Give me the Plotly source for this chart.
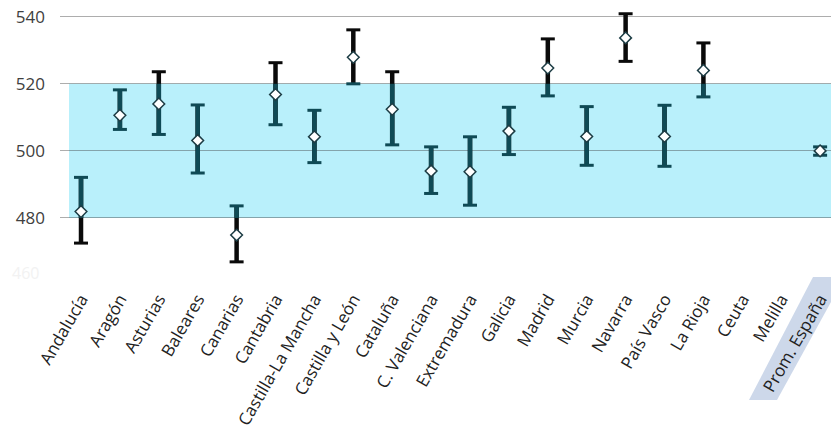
import plotly.graph_objects as go

regions = ["Andalucía", "Aragón", "Asturias", "Baleares", "Canarias", "Cantabria",
           "Castilla-La Mancha", "Castilla y León", "Cataluña", "C. Valenciana",
           "Extremadura", "Galicia", "Madrid", "Murcia", "Navarra", "País Vasco",
           "La Rioja", "Ceuta", "Melilla", "Prom. España"]
score = [481.9, 510.6, 514.0, 503.1, 474.9, 516.8, 504.2, 527.9, 512.4, 494.0,
         493.8, 505.9, 524.7, 504.3, 533.7, 504.3, 524.0, None, None, 500.0]
upper = [492.1, 518.2, 523.6, 513.7, 483.6, 526.3, 512.1, 536.1, 523.6, 501.2,
         504.2, 513.0, 533.4, 513.2, 540.9, 513.6, 532.2, None, None, 501.2]
lower = [472.5, 506.4, 504.9, 493.4, 466.9, 507.8, 496.5, 520.0, 501.8, 487.3,
         483.8, 498.9, 516.4, 495.7, 526.7, 495.4, 516.1, None, None, 498.7]
band_low, band_high = 480, 520
y_ticks = [480, 500, 520, 540]

BLACK = "#0a0a0a"
TEAL = "#0f4a55"
BAND = "#b9f0fb"

W, H = 831, 436
ML, MR, MT, MB = 60, 0, 0, 151
PW, PH = W - ML - MR, H - MT - MB

fig = go.Figure()

bx, by = [], []
tx, ty = [], []
for i, (lo, hi) in enumerate(zip(lower, upper)):
    if lo is None:
        continue
    bx += [i, i, None]
    by += [lo, hi, None]
    clo, chi = max(lo, band_low), min(hi, band_high)
    if chi > clo:
        tx += [i, i, None]
        ty += [clo, chi, None]

fig.add_trace(go.Scatter(x=bx, y=by, mode="lines", line=dict(color=BLACK, width=4.5),
                         hoverinfo="skip", showlegend=False, cliponaxis=False))
fig.add_trace(go.Scatter(x=tx, y=ty, mode="lines", line=dict(color=TEAL, width=4.5),
                         hoverinfo="skip", showlegend=False, cliponaxis=False))

cx, cy, cc = [], [], []
for i, (lo, hi) in enumerate(zip(lower, upper)):
    if lo is None:
        continue
    for v in (lo, hi):
        cx.append(i)
        cy.append(v)
        cc.append(TEAL if band_low <= v <= band_high else BLACK)
fig.add_trace(go.Scatter(x=cx, y=cy, mode="markers", cliponaxis=False,
                         marker=dict(symbol="line-ew", size=10, line=dict(width=3, color=cc)),
                         hoverinfo="skip", showlegend=False))

fig.add_trace(go.Scatter(x=list(range(len(regions))), y=score, mode="markers", cliponaxis=False,
                         marker=dict(symbol="diamond", size=9, color="white",
                                     line=dict(width=1.5, color="#1c3c44")),
                         showlegend=False))

fig.add_shape(type="rect", xref="paper", yref="y", x0=9 / PW, x1=1, y0=band_low, y1=band_high,
              fillcolor=BAND, line=dict(width=0), layer="below")


def px(x, y):
    return (x - ML) / PW, (MT + PH - y) / PH


pts = [px(813, 277), px(831, 277), px(831, 302), px(777, 400), px(749, 400)]
path = "M " + " L ".join(f"{a},{b}" for a, b in pts) + " Z"
fig.add_shape(type="path", xref="paper", yref="paper", path=path,
              fillcolor="#cdd8ea", line=dict(width=0), layer="below")

fig.add_annotation(xref="paper", yref="paper", x=-0.025, y=(PH - 273) / PH, text="460",
                   showarrow=False, xanchor="right", yanchor="middle",
                   font=dict(size=16, color="#f2f2f2", family="Open Sans"))

fig.update_xaxes(range=[-0.54, 19.28], tickmode="array", tickvals=list(range(len(regions))),
                 ticktext=regions, tickangle=-60, showgrid=False, zeroline=False,
                 showline=False, ticks="", automargin=False, ticklabeloverflow="allow",
                 tickfont=dict(family="Open Sans", size=17, color="#222222"))
fig.update_yaxes(range=[460, 545], tickvals=y_ticks, showgrid=True,
                 gridcolor="rgba(60,60,60,0.42)", gridwidth=1, zeroline=False,
                 showline=False, ticks="", ticklabelstandoff=14, automargin=False,
                 tickfont=dict(family="Open Sans", size=17, color="#404040"))

fig.update_layout(width=W, height=H, margin=dict(l=ML, r=MR, t=MT, b=MB, autoexpand=False),
                  paper_bgcolor="white", plot_bgcolor="white")

fig.write_html("out.html", config={"displayModeBar": False},
               post_script="document.body.style.margin='0';")
